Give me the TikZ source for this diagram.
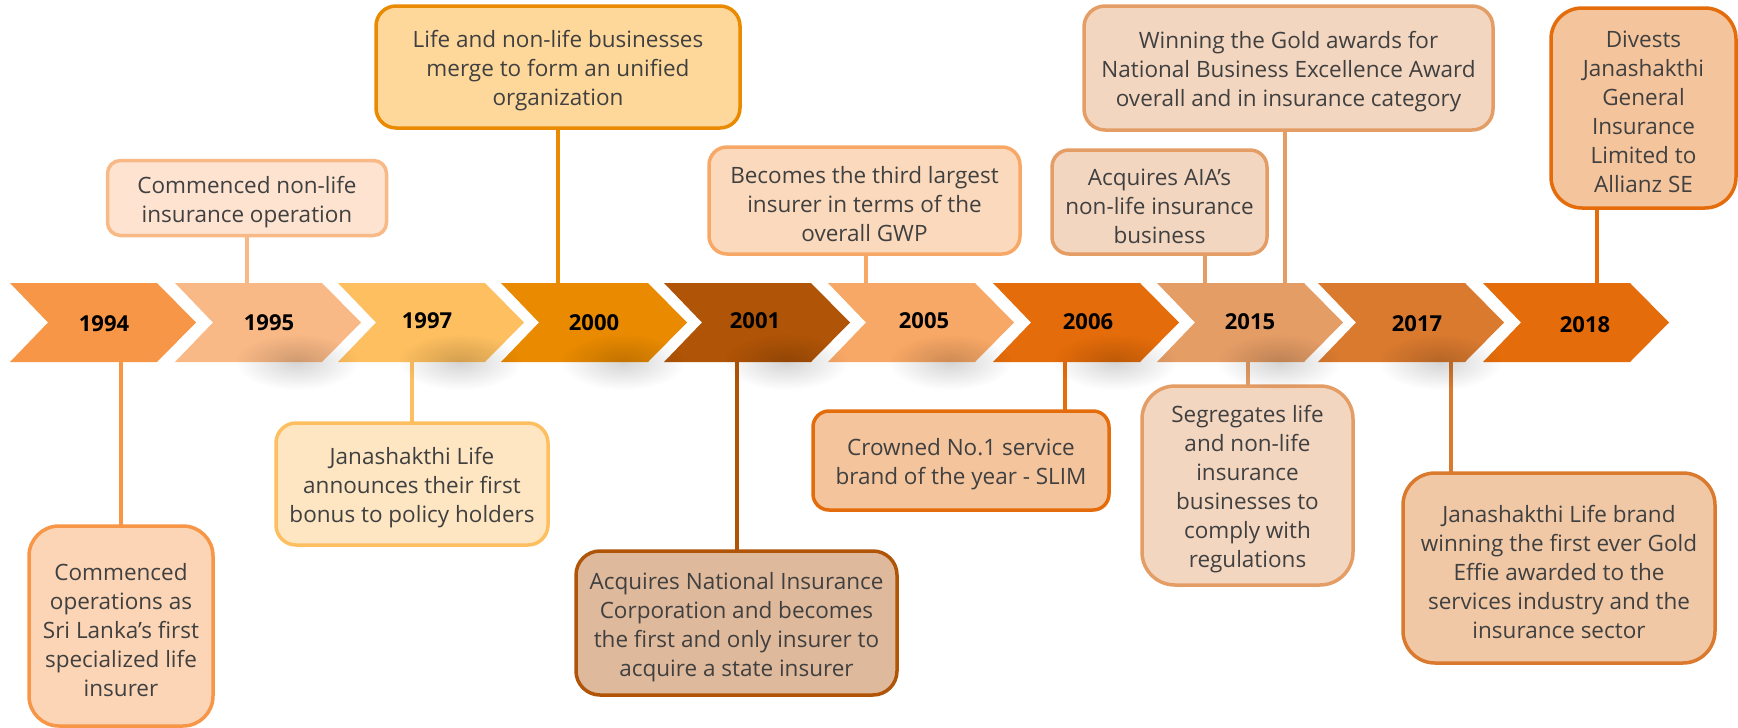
\documentclass[tikz,border=0pt]{standalone}
\usepackage{fontspec}
\setmainfont{Open Sans}
\usetikzlibrary{fadings}

% chevron / border colours
\definecolor{cA}{HTML}{F79646}
\definecolor{cB}{HTML}{F9B986}
\definecolor{cC}{HTML}{FDBF60}
\definecolor{cD}{HTML}{E98A00}
\definecolor{cE}{HTML}{B05407}
\definecolor{cF}{HTML}{F8A866}
\definecolor{cG}{HTML}{E46C0A}
\definecolor{cH}{HTML}{E59D66}
\definecolor{cK}{HTML}{DA7A2F}
% box fills
\definecolor{fA}{HTML}{FBD5B5}
\definecolor{fB}{HTML}{FDE3D0}
\definecolor{fC}{HTML}{FEE6C3}
\definecolor{fD}{HTML}{FED89A}
\definecolor{fE}{HTML}{DFB99B}
\definecolor{fF}{HTML}{FBD9BC}
\definecolor{fG}{HTML}{F4C49C}
\definecolor{fH}{HTML}{F3D6C0}
\definecolor{fK}{HTML}{F0C8A6}
\definecolor{txt}{HTML}{404040}

\tikzfading[name=softblob, inner color=transparent!0, outer color=transparent!100]

% one arrow-like step of the time line: left edge x, colour
\newcommand\chevronshape[2]{%
  \fill[#2] (#1,283) -- ++(147,0) -- ++(39,39.5) -- ++(-39,39.5) -- ++(-147,0) -- ++(38,-39.5) -- cycle;}
% soft shadow under a step
\newcommand\chevronhaze[1]{%
  \fill[black, path fading=softblob, fill opacity=0.17] (#1+122,362) ellipse [x radius=62pt, y radius=28pt];}
% extra head room on the first line of a box text
\newcommand\firstline{\rule{0pt}{25pt}}

\begin{document}
\begin{tikzpicture}[x=1pt,y=-1pt,
  evbox/.style 2 args={draw=#2, fill=#1, line width=3.5pt, text=txt, align=center,
    inner sep=0pt, font=\fontsize{22.5}{29}\selectfont},
  conn/.style={draw=#1, line width=4pt},
  yearlbl/.style={font=\fontsize{22}{26}\selectfont\bfseries, text=black, inner sep=0pt}]
\useasboundingbox (0,0) rectangle (1738,728);

\coordinate (railtop) at (0,283);
\coordinate (railbot) at (0,362);

% event boxes
\node[evbox={fA}{cA}, minimum width=184pt, minimum height=200pt, rounded corners=30pt] (A) at (121,626)
  {\firstline Commenced\\operations as\\Sri Lanka’s first\\specialized life\\insurer};
\node[evbox={fB}{cB}, minimum width=279pt, minimum height=75pt, rounded corners=13pt] (B) at (247,198)
  {\firstline Commenced non-life\\insurance operation};
\node[evbox={fC}{cC}, minimum width=272pt, minimum height=122pt, rounded corners=20pt] (C) at (412,484)
  {\firstline Janashakthi Life\\announces their first\\bonus to policy holders};
\node[evbox={fD}{cD}, minimum width=364pt, minimum height=122pt, rounded corners=20pt] (D) at (558,67)
  {\firstline Life and non-life businesses\\merge to form an unified\\organization};
\node[evbox={fE}{cE}, minimum width=321pt, minimum height=144pt, rounded corners=24pt] (E) at (736.5,623)
  {\firstline Acquires National Insurance\\Corporation and becomes\\the first and only insurer to\\acquire a state insurer};
\node[evbox={fF}{cF}, minimum width=311pt, minimum height=107pt, rounded corners=18pt] (F) at (864.5,200.5)
  {\firstline Becomes the third largest\\insurer in terms of the\\overall GWP};
\node[evbox={fG}{cG}, minimum width=296pt, minimum height=99pt, rounded corners=16pt] (G) at (961,460.5)
  {\firstline Crowned No.1 service\\brand of the year - SLIM};
\node[evbox={fH}{cH}, minimum width=215pt, minimum height=104pt, rounded corners=17pt] (H) at (1159.5,202)
  {\firstline Acquires AIA’s\\non-life insurance\\business};
\node[evbox={fH}{cH}, minimum width=409pt, minimum height=124pt, rounded corners=21pt] (I) at (1288.5,68)
  {\firstline Winning the Gold awards for\\National Business Excellence Award\\overall and in insurance category};
\node[evbox={fH}{cH}, minimum width=211pt, minimum height=199pt, rounded corners=33pt] (J) at (1247.5,485.5)
  {\firstline Segregates life\\and non-life\\insurance\\businesses to\\comply with\\regulations};
\node[evbox={fK}{cK}, minimum width=312pt, minimum height=190pt, rounded corners=32pt] (K) at (1559,568)
  {\firstline Janashakthi Life brand\\winning the first ever Gold\\Effie awarded to the\\services industry and the\\insurance sector};
\node[evbox={fG}{cG}, minimum width=185pt, minimum height=200pt, rounded corners=31pt] (L) at (1643.5,108)
  {\firstline Divests\\Janashakthi\\General\\Insurance\\Limited to\\Allianz SE};

% attachment points of the stems
\coordinate (gA) at (A.north);
\coordinate (gB) at (B.south);
\coordinate (gC) at (C.north);
\coordinate (gD) at (D.south);
\coordinate (gE) at (E.north);
\coordinate (gF) at ([xshift=1.5pt]F.south);
\coordinate (gG) at ([xshift=104pt]G.north);
\coordinate (gH) at ([xshift=45.5pt]H.south);
\coordinate (gI) at ([xshift=-3.5pt]I.south);
\coordinate (gJ) at (J.north);
\coordinate (gK) at ([xshift=-108pt]K.north);
\coordinate (gL) at ([xshift=-46.5pt]L.south);

% stems between the boxes and the time line
\draw[conn=cA] (gA |- railbot) -- ([yshift=-2pt]gA);
\draw[conn=cB] ([yshift=2pt]gB) -- (gB |- railtop);
\draw[conn=cC] (gC |- railbot) -- ([yshift=-2pt]gC);
\draw[conn=cD] ([yshift=2pt]gD) -- (gD |- railtop);
\draw[conn=cE] (gE |- railbot) -- ([yshift=-2pt]gE);
\draw[conn=cF] ([yshift=2pt]gF) -- (gF |- railtop);
\draw[conn=cG] (gG |- railbot) -- ([yshift=-2pt]gG);
\draw[conn=cH] ([yshift=2pt]gH) -- (gH |- railtop);
\draw[conn=cH] ([yshift=2pt]gI) -- (gI |- railtop);
\draw[conn=cH] (gJ |- railbot) -- ([yshift=-2pt]gJ);
\draw[conn=cK] (gK |- railbot) -- ([yshift=-2pt]gK);
\draw[conn=cG] ([yshift=2pt]gL) -- (gL |- railtop);

% time line steps
\chevronshape{10}{cA}
\chevronshape{175}{cB}
\chevronshape{338}{cC}
\chevronshape{501}{cD}
\chevronshape{664}{cE}
\chevronshape{828}{cF}
\chevronshape{993}{cG}
\chevronshape{1157}{cH}
\chevronshape{1318}{cK}
\chevronshape{1483}{cG}

\foreach \l in {175,338,501,664,828,993,1157,1318}{\chevronhaze{\l}}

% year labels
\node[yearlbl] (y1994) at (104,324) {1994};
\node[yearlbl] (y1995) at (269,323) {1995};
\node[yearlbl] (y1997) at (427,321) {1997};
\node[yearlbl] (y2000) at (594,323) {2000};
\node[yearlbl] (y2001) at (755,321) {2001};
\node[yearlbl] (y2005) at (924,321) {2005};
\node[yearlbl] (y2006) at (1088,322) {2006};
\node[yearlbl] (y2015) at (1250,322) {2015};
\node[yearlbl] (y2017) at (1417,324) {2017};
\node[yearlbl] (y2018) at (1585,325) {2018};
\end{tikzpicture}
\end{document}
